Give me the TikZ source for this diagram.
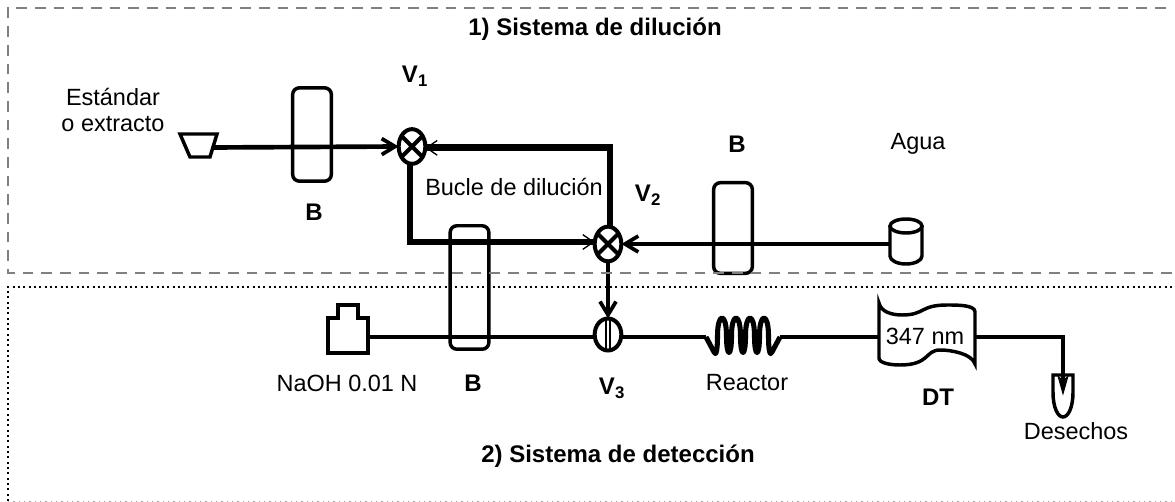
\documentclass[tikz,border=0pt]{standalone}
\usepackage{fontspec}
\setmainfont{Liberation Sans}
\usetikzlibrary{arrows.meta,shapes.geometric}
\tikzset{>={Straight Barb[length=10,width=12,line width=2.8]}}
\colorlet{boxgray}{black!50}
\tikzstyle{txt}=[font=\fontsize{17.6}{20}\selectfont,inner sep=0,align=center]
\tikzstyle{txtbold}=[txt,font=\fontsize{18}{20}\selectfont\bfseries]
\tikzstyle{pipe}=[line width=3.5]
\tikzstyle{looppipe}=[line width=5,-{Straight Barb[length=8,width=11,line width=1]}]
\tikzstyle{part}=[draw,line width=2.6,inner sep=0,outer sep=0]
\tikzstyle{column}=[part,rectangle,rounded corners=5,minimum width=29]
\tikzstyle{valve}=[part,line width=3,ellipse,fill=white,minimum width=20,minimum height=26]
\def\cross#1{
  \draw[line width=3] (#1.45) -- (#1.225) (#1.135) -- (#1.315);
}
\begin{document}
\begin{tikzpicture}[x=.75pt,y=-.75pt]
  \useasboundingbox (0,0) rectangle (1175,502);

  % TITLES
  \node[txtbold] (title1) at (595,29) {1) Sistema de dilución};
  \node[txtbold] (title2) at (618,456) {2) Sistema de detección};

  % COLUMNS
  \node[column,minimum height=70] (B1) at (312,134.5) {};
  \node[column,minimum height=92.6] (B2) at (469.5,287.5) {};
  \node[column,minimum height=68] (B3) at (733,228) {};

  % SOURCES
  \coordinate (Fo) at (212,147.5);
  \draw[line width=2.6] (180,134) -- (217,134) -- (210,157) -- (190,157) -- cycle;
  \node[inner sep=0,minimum width=24,minimum height=35] (water) at (906,241.5) {};
  \draw[line width=2.6] (890,226) -- (890,256) arc (180:0:16 and 8) -- (922,226);
  \draw[line width=2.6] (906,226) ellipse (16 and 7);
  \node[inner sep=0,minimum width=30,minimum height=36] (naoh) at (348,329) {};
  \draw[line width=2.6] (328,353) -- (328,318) -- (338,318) -- (338,305) -- (358,305) -- (358,318) -- (368,318) -- (368,353) -- cycle;

  % REACTOR
  \coordinate (Ra) at (706,337);
  \coordinate (Rb) at (780,337);
  \draw[pipe,line width=3.8,line join=round] (Ra) -- (714,352)
    .. controls (716,357) and (717.5,350) .. (717.5,336) .. controls (717.5,312) and (726.5,312) .. (726.5,336)
    .. controls (726.5,358) and (731.5,358) .. (731.5,336) .. controls (731.5,312) and (740.5,312) .. (740.5,336)
    .. controls (740.5,358) and (745.5,358) .. (745.5,336) .. controls (745.5,312) and (754.5,312) .. (754.5,336)
    .. controls (754.5,358) and (759.5,358) .. (759.5,336) .. controls (759.5,312) and (768.5,312) .. (768.5,336)
    .. controls (768.5,350) and (770,357) .. (772,352) -- (Rb);

  % DETECTOR
  \node[inner sep=0,minimum width=72,minimum height=37] (DT) at (927,338) {};
  \draw[line width=2.6] (879,303) .. controls (881,312) and (892,315) .. (902,315)
    .. controls (925,315) and (920,305) .. (947,305) .. controls (958,305) and (975,305) .. (975,312)
    -- (975,364) .. controls (972,354) and (952,350) .. (940,350)
    .. controls (925,350) and (930,365) .. (900,365) .. controls (890,365) and (879,363) .. (879,358) -- cycle;
  \node[txt] (nm) at (925,336) {347 nm};

  % WASTE
  \coordinate (We) at (1063,396);
  \draw[line width=2.6] (1053,375) -- (1073,375) -- (1073,392) .. controls (1073,408) and (1068,417) .. (1063,417)
    .. controls (1058,417) and (1053,408) .. (1053,392) -- cycle;

  % FLOW
  \node[valve] (V1) at (412,146.5) {};
  \node[valve] (V2) at (608,244) {};
  \node[valve,minimum height=24] (V3) at (608,334.5) {};
  \cross{V1}
  \cross{V2}
  \draw[line width=1.2] ([xshift=-1.5]V3.north) -- ([xshift=-1.5]V3.south)
    ([xshift=1.5]V3.north) -- ([xshift=1.5]V3.south);
  \draw[pipe,->] (Fo) -- (V1.west);
  \draw[pipe,->] (water.west |- V2.east) -- (V2.east);
  \draw[line width=3.6,->] (V2.south) -- (V3.north);
  \draw[pipe] (naoh.east |- 0,337) -- (V3.west |- 0,337);
  \draw[pipe] (V3.east |- 0,337) -- (Ra);
  \draw[pipe] (Rb) -- (DT.west |- Rb);
  \draw[pipe,-{Stealth[length=15,width=8,inset=3]}] (DT.east |- Rb) -| (We);
  \draw[looppipe] ([xshift=1.5]V2.north) |- ([yshift=-1]V1.east);
  \draw[looppipe] ([xshift=-1.5]V1.south) |- ([yshift=1.5]V2.west);

  % LABELS
  \node[txt] (std) at (113,110) {Estándar\\o extracto};
  \node[txtbold] (lB1) at (314,212) {B};
  \node[txtbold] (lV1) at (415,76) {V\textsubscript{1}};
  \node[txt] (dil) at (514,187) {Bucle de dilución};
  \node[txtbold] (lV2) at (648,195) {V\textsubscript{2}};
  \node[txtbold] (lB3) at (737,144) {B};
  \node[txt] (agua) at (918,144) {Agua};
  \node[txt] (lnaoh) at (347,383) {NaOH 0.01 N};
  \node[txtbold] (lB2) at (473,383) {B};
  \node[txtbold] (lV3) at (612,388) {V\textsubscript{3}};
  \node[txt] (lreact) at (747,383) {Reactor};
  \node[txtbold] (lDT) at (938,397) {DT};
  \node[txt] (waste) at (1076,431) {Desechos};

  % BOXES
  \draw[boxgray,line width=1.7,dash pattern=on 8 off 6] (1172,273) -- (8,273) -- (8,8) -- (1172,8);
  \draw[line width=1.4,dash pattern=on 1.5 off 2.5] (8,501) -- (8,287) -- (1172,287);
  \draw[black!35,line width=.7,dash pattern=on 1 off 3] (8,501) -- (1172,501);
\end{tikzpicture}
\end{document}
